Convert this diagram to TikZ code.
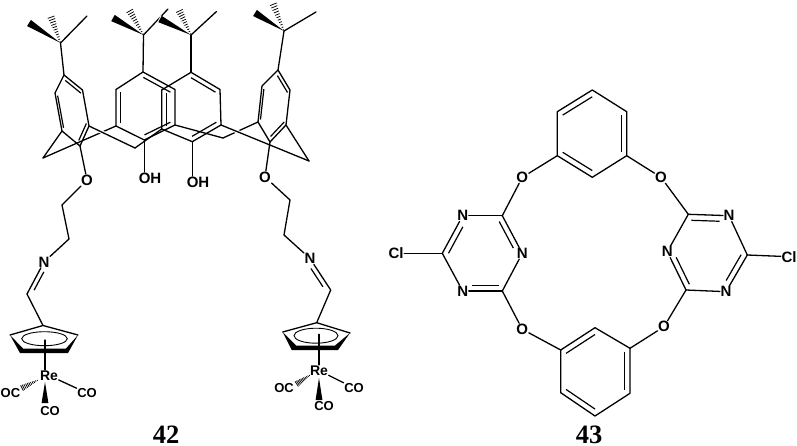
\documentclass[tikz,border=0pt]{standalone}
\usepackage{fontspec}
\setmainfont{Liberation Sans}
\newfontfamily\numfont{Liberation Serif}
\usetikzlibrary{calc}
\tikzset{
  atom/.style={font=\fontsize{15}{15}\selectfont\bfseries, inner sep=.5pt, text=black},
  carbonyl/.style={font=\fontsize{13}{13}\selectfont\bfseries, inner sep=.5pt, text=black},
  metal/.style={font=\fontsize{14}{14}\selectfont\bfseries, inner sep=.5pt},
  numlabel/.style={font=\fontsize{26.5}{26.5}\selectfont\numfont\bfseries, inner sep=0pt},
  bond/.style={line width=1.3pt, line cap=round, line join=round},
  inner/.style={line width=1.2pt, line cap=butt},
  halo/.style={preaction={draw=white, line width=3.6pt, line cap=butt}}
}
% double-bond inner line, pulled toward the ring centre
\newcommand{\dbl}[4][]{\draw[inner,#1] ($(#2.center)!.155!(#4)$) -- ($(#3.center)!.155!(#4)$);}
% hashed bond
\newcommand{\hashb}[3]{\foreach \tt in {.04,.125,...,.97}{%
  \pgfmathsetmacro{\ww}{.4+\tt*#3}%
  \draw[line width=.75pt] ($(#1)!\tt!(#2)!\ww pt!90:(#2)$) -- ($(#1)!\tt!(#2)!\ww pt!-90:(#2)$);}}
% solid wedge
\newcommand{\wedgeb}[4][]{\fill[black,#1] (#2) -- ($(#3)!#4 pt!90:(#2)$) -- ($(#3)!#4 pt!-90:(#2)$) -- cycle;}
\begin{document}
\begin{tikzpicture}[x=1pt,y=-1pt]
\useasboundingbox (0,0) rectangle (797,446);

% ---------- ring A ----------
\coordinate (qA) at (60.5,43);
\coordinate (mA1) at (29,23);
\coordinate (mA2) at (50,14);
\coordinate (mA3) at (87,16);
\coordinate (a1) at (64,75);
\coordinate (a2) at (82.5,90);
\coordinate (a3) at (89,126);
\coordinate (a4) at (80,146);
\coordinate (a5) at (62,131);
\coordinate (a6) at (55,93);
\coordinate (ac) at (72,110);
% ---------- ring B ----------
\coordinate (qB) at (143.5,35);
\coordinate (mB1) at (113,18);
\coordinate (mB2) at (128,8);
\coordinate (mB3) at (168,9);
\coordinate (b1) at (143,72);
\coordinate (b2) at (175,89.5);
\coordinate (b3) at (175,125);
\coordinate (b4) at (144.3,140);
\coordinate (b5) at (116,126);
\coordinate (b6) at (116,89.5);
\coordinate (bc) at (145.5,107);
% ---------- ring C ----------
\coordinate (qC) at (191,35);
\coordinate (mC1) at (160,19);
\coordinate (mC2) at (178,8);
\coordinate (mC3) at (216.5,11.5);
\coordinate (c1) at (191,72.3);
\coordinate (c2) at (220,89.5);
\coordinate (c3) at (221,125);
\coordinate (c4) at (192.3,141.7);
\coordinate (c5) at (161.7,129);
\coordinate (c6) at (161.7,90);
\coordinate (cc) at (191,107);
% ---------- ring D ----------
\coordinate (qD) at (284,31);
\coordinate (mD1) at (255,13);
\coordinate (mD2) at (272,1);
\coordinate (mD3) at (316,12);
\coordinate (d1) at (278,70);
\coordinate (d2) at (290,90);
\coordinate (d3) at (286,125);
\coordinate (d4) at (270,142);
\coordinate (d5) at (258,122);
\coordinate (d6) at (262,86);
\coordinate (dc) at (274,106);
% ---------- bridges ----------
\coordinate (brL) at (43,158);
\coordinate (brM) at (135,148);
\coordinate (brN) at (223,138);
\coordinate (brR) at (309,161);

\draw[bond] (brL) -- (b5);
\draw[bond] (brN) -- (d5);
\draw[bond,halo] (a3) -- (brM);
\draw[bond,halo] (c3) -- (brR);
\draw[bond] (a5) -- (brL);
\draw[bond] (brM) -- (c5);
\draw[bond] (b3) -- (brN);
\draw[bond] (d3) -- (brR);

% tert-butyl groups
\draw[bond] (qA) -- (mA3);
\draw[bond] (qB) -- (mB3);
\draw[bond] (qC) -- (mC3);
\draw[bond] (qD) -- (mD3);
\wedgeb{qA}{mA1}{3.6}
\wedgeb{qB}{mB1}{3.6}
\draw[white,line width=2pt] ($(mC1)!3.6pt!90:(qC)$) -- ($(mC1)!3.6pt!-90:(qC)$) -- ($(qC)!.55!(mC1)$);
\wedgeb{qC}{mC1}{3.6}
\wedgeb{qD}{mD1}{3.6}
\hashb{qA}{mA2}{3.6}
\hashb{qB}{mB2}{3.6}
\hashb{qC}{mC2}{3.6}
\hashb{qD}{mD2}{3.6}
\draw[bond] (qA) -- (a1);
\draw[bond] (qB) -- (b1);
\draw[bond] (qC) -- (c1);
\draw[bond] (qD) -- (d1);

% aromatic rings
\draw[bond] (a1)--(a2)--(a3)--(a4)--(a5)--(a6)--cycle;
\dbl{a1}{a2}{ac} \dbl{a3}{a4}{ac} \dbl{a5}{a6}{ac}
\draw[bond] (b1)--(b2)--(b3)--(b4)--(b5)--(b6)--cycle;
\dbl{b1}{b2}{bc} \dbl{b3}{b4}{bc} \dbl{b5}{b6}{bc}
\draw[bond] (c1)--(c2)--(c3)--(c4)--(c5)--(c6)--cycle;
\dbl{c1}{c2}{cc} \dbl{c3}{c4}{cc} \dbl{c5}{c6}{cc}
\draw[bond] (d1)--(d2)--(d3)--(d4)--(d5)--(d6)--cycle;
\dbl{d1}{d2}{dc} \dbl{d3}{d4}{dc} \dbl{d5}{d6}{dc}

% phenol OH
\node[atom] (OH1) at (150,178) {OH};
\node[atom] (OH2) at (198,182) {OH};
\draw[bond] (b4) -- (b4 |- OH1.north);
\draw[bond] (c4) -- (c4 |- OH2.north);

% ---------- left arm ----------
\node[atom] (OL) at (87,180) {O};
\coordinate (l1) at (62,205);
\coordinate (l2) at (69,239);
\node[atom] (NL) at (44,262) {N};
\coordinate (l3) at (27,294);
\draw[bond] (a4) -- (OL);
\draw[bond] (OL) -- (l1) -- (l2) -- (NL);
\draw[bond] (NL) -- (l3);
\draw[inner] ($(NL.center)!9pt!(l3)+(4,2)$) -- ($(l3)!.18!(NL.center)+(4,2)$);
\coordinate (cpLt) at (43,325.5);
\coordinate (cpLr) at (78,335);
\coordinate (cpLbr) at (68,353);
\coordinate (cpLbl) at (20,353);
\coordinate (cpLl) at (10,335);
\coordinate (cpLir) at (66,348.5);
\coordinate (cpLil) at (23,348.5);
\coordinate (cpLc) at (44.5,338.7);
\draw[bond] (l3) -- (cpLt);
\fill[black] (cpLl) -- (cpLbl) -- (cpLbr) -- (cpLr) -- (cpLir) -- (cpLil) -- cycle;
\draw[bond] (cpLl) -- (cpLt) -- (cpLr);
\draw[line width=.9pt] (cpLc) ellipse [x radius=22.8, y radius=7];
\node[metal] (ReL) at (49,375.5) {Re};
\coordinate (stL) at (45,340);
\draw[bond] (stL) -- (stL |- ReL.north);
\node[carbonyl] (OCL) at (10.5,393) {OC};
\node[carbonyl] (COLr) at (87,393) {CO};
\node[carbonyl] (COLb) at (50,411) {CO};
\draw[bond] (ReL) -- (COLr);
\coordinate (hL1) at (38,380);
\coordinate (hL2) at (20,389);
\hashb{hL1}{hL2}{3}
\coordinate (wL1) at (45,382);
\coordinate (wL2) at (45,403);
\wedgeb{wL1}{wL2}{3.4}

% ---------- right arm ----------
\node[atom] (OR) at (265,177) {O};
\coordinate (r1) at (290,200);
\coordinate (r2) at (284,235);
\node[atom] (NR) at (310,258.5) {N};
\coordinate (r3) at (330.7,290);
\draw[bond] (d4) -- (OR);
\draw[bond] (OR) -- (r1) -- (r2) -- (NR);
\draw[bond] (NR) -- (r3);
\draw[inner] ($(NR.center)!9pt!(r3)+(-4,2.5)$) -- ($(r3)!.18!(NR.center)+(-4,2.5)$);
\coordinate (cpRt) at (316.7,322.7);
\coordinate (cpRr) at (350,333);
\coordinate (cpRbr) at (338,350);
\coordinate (cpRbl) at (291.7,350);
\coordinate (cpRl) at (282.7,332);
\coordinate (cpRir) at (335,345.5);
\coordinate (cpRil) at (296,345.5);
\coordinate (cpRc) at (316,335.7);
\draw[bond] (r3) -- (cpRt);
\fill[black] (cpRl) -- (cpRbl) -- (cpRbr) -- (cpRr) -- (cpRir) -- (cpRil) -- cycle;
\draw[bond] (cpRl) -- (cpRt) -- (cpRr);
\draw[line width=.9pt] (cpRc) ellipse [x radius=22, y radius=7.5];
\node[metal] (ReR) at (319,370.5) {Re};
\coordinate (stR) at (319,334.3);
\draw[bond] (stR) -- (stR |- ReR.north);
\node[carbonyl] (OCR) at (284,388) {OC};
\node[carbonyl] (CORr) at (354,388) {CO};
\node[carbonyl] (CORb) at (324,406) {CO};
\draw[bond] (ReR) -- (CORr);
\coordinate (hR1) at (310,375);
\coordinate (hR2) at (295,385);
\hashb{hR1}{hR2}{3}
\coordinate (wR1) at (319,378);
\coordinate (wR2) at (319,400);
\wedgeb{wR1}{wR2}{3.4}

\node[numlabel] (n42) at (166,435) {42};

% ---------- molecule 43 ----------
\node[atom] (Cl1) at (396,253.3) {Cl};
\coordinate (t1) at (442.3,253.3);
\node[atom] (tN1) at (462.7,215.7) {N};
\coordinate (t2) at (502.3,215.7);
\node[atom] (tN2) at (522.3,253.3) {N};
\coordinate (t3) at (502.3,291);
\node[atom] (tN3) at (462.7,291) {N};
\coordinate (tc) at (482.3,253.3);
\draw[bond] (Cl1) -- (t1);
\draw[bond] (t1) -- (tN1);
\draw[bond] (tN1) -- (t2);
\draw[bond] (t2) -- (tN2);
\draw[bond] (tN2) -- (t3);
\draw[bond] (t3) -- (tN3);
\draw[bond] (tN3) -- (t1);
\dbl[shorten >=6pt]{t1}{tN1}{tc}
\dbl[shorten >=6pt]{t2}{tN2}{tc}
\dbl[shorten >=6pt]{t3}{tN3}{tc}

\node[atom] (Cl2) at (789,256.7) {Cl};
\coordinate (u1) at (747.3,255);
\node[atom] (uN1) at (729,215.7) {N};
\coordinate (u2) at (688.3,214.3);
\node[atom] (uN2) at (667.3,251.7) {N};
\coordinate (u3) at (686,290);
\node[atom] (uN3) at (726,291.7) {N};
\coordinate (uc) at (707.5,253);
\draw[bond] (Cl2) -- (u1);
\draw[bond] (u1) -- (uN1);
\draw[bond] (uN1) -- (u2);
\draw[bond] (u2) -- (uN2);
\draw[bond] (uN2) -- (u3);
\draw[bond] (u3) -- (uN3);
\draw[bond] (uN3) -- (u1);
\dbl[shorten >=6pt]{u1}{uN3}{uc}
\dbl[shorten >=6pt]{u2}{uN1}{uc}
\dbl[shorten >=6pt]{u3}{uN2}{uc}

\coordinate (p1) at (557.3,155.7);
\coordinate (p2) at (557.3,111.7);
\coordinate (p3) at (592.3,90);
\coordinate (p4) at (626.7,111.7);
\coordinate (p5) at (626.7,155.7);
\coordinate (p6) at (592.3,177.3);
\coordinate (pc) at (592,133.7);
\draw[bond] (p1)--(p2)--(p3)--(p4)--(p5)--(p6)--cycle;
\dbl{p2}{p3}{pc} \dbl{p4}{p5}{pc} \dbl{p6}{p1}{pc}

\coordinate (s1) at (560.7,350);
\coordinate (s2) at (560.7,392.7);
\coordinate (s3) at (595,416);
\coordinate (s4) at (630,393.3);
\coordinate (s5) at (630,348.3);
\coordinate (s6) at (595,327.7);
\coordinate (sc) at (595.3,371.5);
\draw[bond] (s1)--(s2)--(s3)--(s4)--(s5)--(s6)--cycle;
\dbl{s1}{s6}{sc} \dbl{s2}{s3}{sc} \dbl{s4}{s5}{sc}

\node[atom] (O1) at (522.3,177.3) {O};
\node[atom] (O2) at (522.3,329.3) {O};
\node[atom] (O3) at (661,177.3) {O};
\node[atom] (O4) at (664,326.7) {O};
\draw[bond] (t2) -- (O1);
\draw[bond] (O1) -- (p1);
\draw[bond] (t3) -- (O2);
\draw[bond] (O2) -- (s1);
\draw[bond] (p5) -- (O3);
\draw[bond] (O3) -- (u2);
\draw[bond] (s5) -- (O4);
\draw[bond] (O4) -- (u3);

\node[numlabel] (n43) at (589,435) {43};
\end{tikzpicture}
\end{document}
